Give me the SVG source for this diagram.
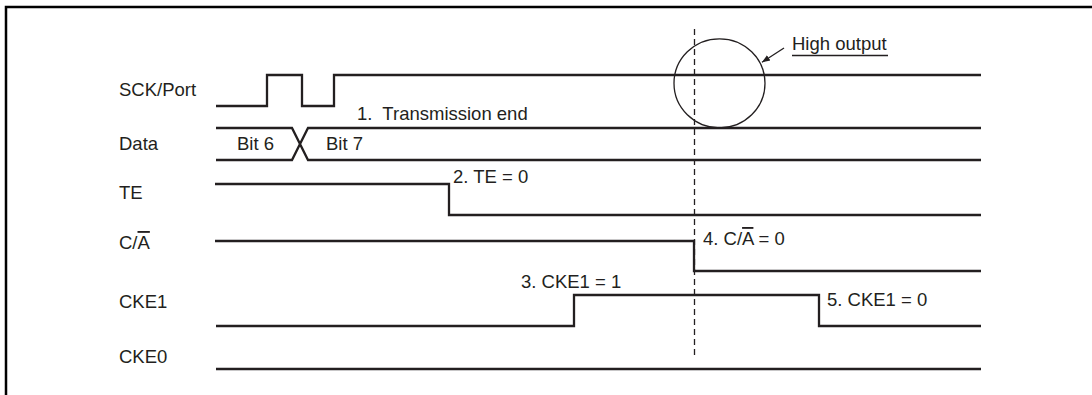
<svg xmlns="http://www.w3.org/2000/svg" width="1092" height="395" viewBox="0 0 1092 395">
<defs>
<style>
.sig{fill:none;stroke:#231f20;stroke-width:2.3;stroke-linejoin:miter}
.lbl{font-family:"Liberation Sans",Arial,sans-serif;font-size:18.5px;fill:#231f20}
.thin{fill:none;stroke:#231f20;stroke-width:1.3}
</style>
<marker id="ah" viewBox="0 0 10 10" refX="10" refY="5" markerWidth="8" markerHeight="8" markerUnits="userSpaceOnUse" orient="auto">
<path d="M0,1 L10,5 L0,9 Z" fill="#231f20"/>
</marker>
</defs>
<rect width="1092" height="395" fill="#fff"/>
<g id="frame">
<path d="M1092,7 H6 V395" fill="none" stroke="#000" stroke-width="2.5"/>
</g>
<g id="sck">
<text class="lbl" x="119" y="96">SCK/Port</text>
<path class="sig" d="M216,106 H267 V75 H302 V106 H334 V75 H981"/>
</g>
<g id="data">
<text class="lbl" x="119" y="150">Data</text>
<path class="sig" d="M216,128 H292 L308,160 H981 M216,160 H292 L308,128 H981"/>
<text class="lbl" x="237" y="150">Bit 6</text>
<text class="lbl" x="326" y="150">Bit 7</text>
</g>
<g id="te">
<text class="lbl" x="119" y="199">TE</text>
<path class="sig" d="M215,184 H449 V215 H981"/>
</g>
<g id="ca">
<text class="lbl" x="119" y="249">C/<tspan text-decoration="overline">A</tspan></text>
<path class="sig" d="M215,241 H694 V271 H981"/>
</g>
<g id="cke1">
<text class="lbl" x="119" y="308">CKE1</text>
<path class="sig" d="M216,326 H574 V295 H819 V326 H981"/>
</g>
<g id="cke0">
<text class="lbl" x="119" y="363">CKE0</text>
<path class="sig" d="M216,369 H981"/>
</g>
<g id="annotations">
<text class="lbl" x="357" y="120" xml:space="preserve">1.  Transmission end</text>
<text class="lbl" x="453" y="183">2. TE = 0</text>
<text class="lbl" x="521" y="288">3. CKE1 = 1</text>
<text class="lbl" x="703" y="245">4. C/<tspan text-decoration="overline">A</tspan> = 0</text>
<text class="lbl" x="827" y="306">5. CKE1 = 0</text>
<text class="lbl" x="792" y="50">High output</text>
<line x1="792" y1="55.5" x2="888" y2="55.5" stroke="#231f20" stroke-width="1.3"/>
</g>
<g id="connectors">
<line x1="694.5" y1="29" x2="694.5" y2="359" stroke="#231f20" stroke-width="1.3" stroke-dasharray="6,4"/>
<ellipse class="thin" cx="719.5" cy="83.3" rx="45.5" ry="44.5"/>
<line x1="784" y1="48" x2="762" y2="62.3" stroke="#231f20" stroke-width="1.3" marker-end="url(#ah)"/>
</g>
</svg>
